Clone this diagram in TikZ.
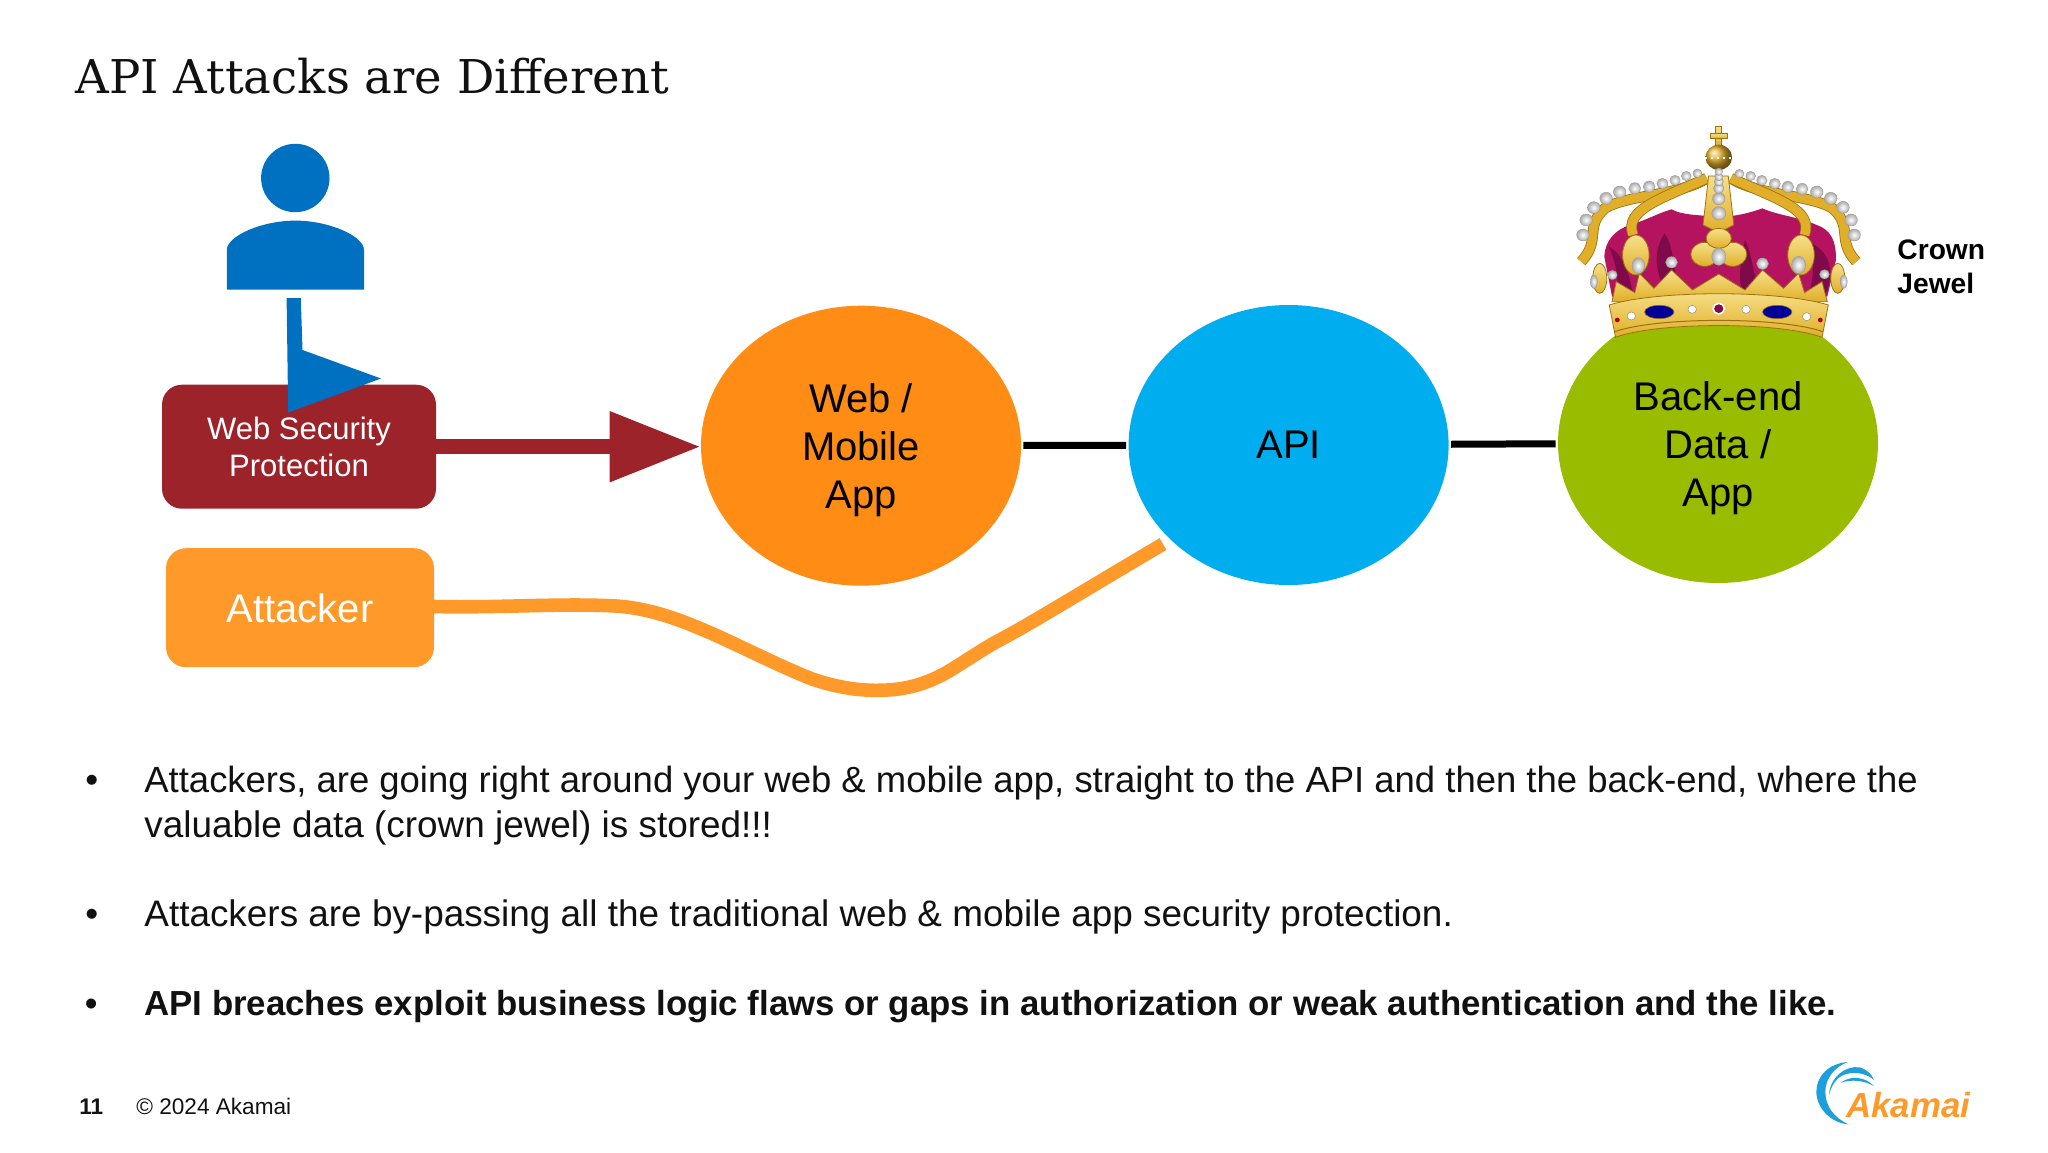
\documentclass[tikz,border=0pt]{standalone}
\usepackage{fontspec}
\setmainfont{Liberation Sans}
\newfontfamily\titlefont{DejaVu Serif}
\usetikzlibrary{shapes.geometric,arrows.meta}
\definecolor{wspred}{HTML}{9C232A}
\definecolor{attackorange}{HTML}{FF9A2A}
\definecolor{mobileorange}{HTML}{FF8C14}
\definecolor{apiblue}{HTML}{00AEEF}
\definecolor{backendgreen}{HTML}{99BC00}
\definecolor{userblue}{HTML}{0070C0}
\definecolor{inkblack}{HTML}{111111}
\definecolor{crowngold}{HTML}{E0AE28}
\definecolor{crownlight}{HTML}{F7E08A}
\definecolor{crowndark}{HTML}{9A7212}
\definecolor{velvet}{HTML}{B5125F}
\definecolor{velvetdark}{HTML}{7F0A4A}
\definecolor{logoblue}{HTML}{1BA0DC}
\begin{document}
\begin{tikzpicture}[%
    x=0.5pt,y=-0.5pt,
    box/.style={
      rectangle,
      rounded corners=10pt,
      text=white,
      align=center,
      inner sep=0pt
    },
    blob/.style={
      ellipse,
      minimum width=160pt,
      minimum height=140pt,
      inner sep=0pt,
      align=center,
      text=black,
      font=\fontsize{20}{24}\selectfont
    },
    link/.style={
      draw=black,
      line width=3.5pt,
      shorten <=1pt,
      shorten >=1pt
    },
    bodytext/.style={
      anchor=base west,
      inner sep=0pt,
      text=inkblack,
      font=\fontsize{18.45}{22.5}\selectfont
    },
    boldtext/.style={
      bodytext,
      font=\fontsize{17.4}{22.5}\selectfont\bfseries
    },
    arch/.style={
      draw=crowndark,
      line width=.4pt,
      double=crowngold,
      double distance=4.6pt
    },
    goldpart/.style={
      top color=crownlight,
      bottom color=crowngold,
      draw=crowndark,
      line width=.4pt
    },
    pearl/.style={
      inner color=white,
      outer color=gray!65,
      draw=gray!80,
      line width=.2pt
    }
  ]
    \useasboundingbox (0,0) rectangle (2048,1152);
    \node[anchor=base west,inner sep=0pt,text=inkblack,
      font=\titlefont\fontsize{23.3}{28}\selectfont] (title) at (75,93)
      {API Attacks are Different};

    % person
    \fill[userblue] (295.3,178) circle[radius=34.2];
    \fill[userblue] (226.8,289.6) -- (226.8,250)
      .. controls (226.8,236) and (262,220.6) .. (295.3,220.6)
      .. controls (329,220.6) and (364,236) .. (364,250)
      -- (364,289.6) -- cycle;

    % boxes
    \node[box,fill=wspred,minimum width=137pt,minimum height=62pt,
      font=\fontsize{15.5}{18.7}\selectfont] (wsp) at (299,446.7)
      {Web Security\\Protection};
    \node[box,fill=attackorange,minimum width=134pt,minimum height=59.5pt,
      font=\fontsize{20}{24}\selectfont] (attacker) at (300,607.7) {Attacker};

    % blue arrow, head turned sideways over the box
    \coordinate (userfoot) at (293.6,298);
    \fill[userblue] (userfoot) ++(-7,0) -- ++(14.2,0) -- (302.5,350)
      -- (381,378.5) -- (288.2,412.5) -- cycle;

    % ovals
    \node[blob,fill=mobileorange] (mobile) at (861,445.7)
      {\rule{0pt}{19pt}Web /\\Mobile\\App};
    \node[blob,fill=apiblue] (api) at (1288.6,445) {API};
    \node[blob,fill=backendgreen] (backend) at (1718,443)
      {\rule{0pt}{19.3pt}Back-end\\Data /\\App};

    % connectors
    \draw[wspred,line width=7.4pt,-{Triangle[length=45.5pt,width=33.5pt]}]
      (wsp.east) -- (wsp.east -| mobile.west);
    \draw[link] (mobile) -- (api);
    \draw[link] (api) -- (backend);
    \coordinate (attackout) at (434,606.5);
    \coordinate (apihit) at (1163,544);
    \draw[attackorange,line width=6.8pt] (attackout)
      .. controls (500,608) and (560,603) .. (616,606)
      .. controls (680,610) and (740,650) .. (812,679)
      .. controls (845,690) and (868,691) .. (887,690)
      .. controls (910,689) and (932,682) .. (954,668)
      .. controls (970,658) and (985,648) .. (996,642)
      .. controls (1030,624) and (1060,605) .. (apihit);

    % crown
    \begin{scope}[shift={(1500,100)},xscale=.35,yscale=.3333]
      \fill[velvet] (298,470) .. controls (300,420) and (330,390) .. (370,375)
        .. controls (420,360) and (450,340) .. (490,328)
        .. controls (520,345) and (560,345) .. (625,350)
        .. controls (670,350) and (710,340) .. (750,325)
        .. controls (790,345) and (850,350) .. (905,375)
        .. controls (945,390) and (960,420) .. (960,480)
        -- (935,590) -- (320,590) -- cycle;
      \fill[velvetdark] (470,400) .. controls (500,440) and (490,520) .. (520,570)
        -- (470,570) .. controls (440,500) and (440,450) .. (470,400);
      \fill[velvetdark] (700,420) .. controls (690,470) and (680,520) .. (690,570)
        -- (740,570) .. controls (720,510) and (720,460) .. (700,420);
      \fill[velvetdark] (870,420) .. controls (900,470) and (900,530) .. (880,585)
        -- (930,585) .. controls (955,520) and (950,450) .. (870,420);
      \fill[velvetdark] (310,440) .. controls (330,480) and (340,540) .. (335,585)
        -- (380,585) .. controls (370,520) and (350,460) .. (310,440);
      % arches
      \draw[arch] (232,485) .. controls (290,420) and (240,380) .. (300,325)
        .. controls (360,285) and (520,285) .. (590,235);
      \draw[arch] (1018,485) .. controls (960,420) and (1010,380) .. (950,325)
        .. controls (890,285) and (730,285) .. (660,235);
      \draw[arch] (380,405) .. controls (355,330) and (450,300) .. (590,235);
      \draw[arch] (870,405) .. controls (895,330) and (800,300) .. (660,235);
      \shadedraw[goldpart] (596,228) -- (652,228) -- (668,375) -- (625,398)
        -- (580,375) -- cycle;
      % orb and cross
      \shadedraw[goldpart] (615,80) rectangle (633,140);
      \shadedraw[goldpart] (600,100) rectangle (650,116);
      \shade[ball color=crowngold] (625,172) circle[radius=38];
      \draw[white,line width=1pt,dotted] (585,174) -- (665,174);
      % side ornaments
      \shadedraw[goldpart] (285,535) ellipse[x radius=20,y radius=45];
      \shadedraw[goldpart] (965,535) ellipse[x radius=20,y radius=45];
      \shadedraw[goldpart] (388,465) ellipse[x radius=38,y radius=60];
      \shadedraw[goldpart] (860,465) ellipse[x radius=38,y radius=60];
      % flower
      \shadedraw[goldpart] (585,463) ellipse[x radius=40,y radius=36];
      \shadedraw[goldpart] (665,463) ellipse[x radius=40,y radius=36];
      \shadedraw[goldpart] (625,415) ellipse[x radius=36,y radius=30];
      % points and band
      \shadedraw[goldpart] (320,605) -- (332,545) -- (385,578) -- (398,520) -- (440,565)
        -- (490,510) -- (550,570) -- (625,522) -- (700,570) -- (750,510)
        -- (810,565) -- (853,520) -- (870,578) -- (920,545) -- (935,605) -- cycle;
      \shadedraw[goldpart] (312,615) .. controls (450,570) and (800,570) .. (938,615)
        -- (920,712) .. controls (800,665) and (450,665) .. (330,712) -- cycle;
      \draw[crowndark,line width=.5pt] (328,695) .. controls (450,650) and (800,650) .. (922,695);
      % gems
      \filldraw[fill=blue!60!black,draw=crowndark,line width=.3pt] (455,636) ellipse[x radius=42,y radius=20];
      \filldraw[fill=blue!60!black,draw=crowndark,line width=.3pt] (792,636) ellipse[x radius=42,y radius=20];
      \filldraw[fill=velvetdark,draw=white,line width=.8pt] (625,626) circle[radius=16];
      \fill[red!70!black] (335,660) circle[radius=7];
      \fill[red!70!black] (915,660) circle[radius=7];
      \foreach \px/\py in {375/648,549/628,703/628,876/650}
        \filldraw[fill=white,draw=gray,line width=.2pt] (\px,\py) circle[radius=12];
      % pearls
      \foreach \px/\py/\pr in {237/405/18,246/360/18,268/323/18,303/295/18,342/276/18,
        385/265/17,426/260/17,464/251/16,500/241/15,532/228/14,564/220/13,
        684/221/13,716/228/14,748/241/15,785/251/16,822/261/17,863/267/17,
        905/276/18,945/295/18,980/322/18,1003/360/18,1012/405/18,
        625/340/20,625/296/18,625/265/15,625/245/13,625/230/12,625/215/11,
        321/525/14,490/487/17,750/491/17,927/523/14}
        \shade[pearl] (\px,\py) circle[radius=\pr];
      \shade[pearl] (395,497) ellipse[x radius=18,y radius=24];
      \shade[pearl] (853,495) ellipse[x radius=20,y radius=26];
      \shade[pearl] (625,470) ellipse[x radius=20,y radius=26];
      \shade[pearl] (268,545) ellipse[x radius=10,y radius=20];
      \shade[pearl] (982,545) ellipse[x radius=10,y radius=20];
    \end{scope}

    \node[anchor=base west,inner sep=0pt,align=left,
      font=\fontsize{14.1}{16.7}\selectfont\bfseries] (jewel) at (1897,293)
      {Crown\\Jewel};

    % bullets
    \node[bodytext] (dot1) at (85,792) {•};
    \node[bodytext,font=\fontsize{18.23}{22.5}\selectfont] (line1) at (144,792) {Attackers, are going right around your web \& mobile app, straight to the API and then the back-end, where the};
    \node[bodytext] (line1b) at (144,837) {valuable data (crown jewel) is stored!!!};
    \node[bodytext] (dot2) at (85,926) {•};
    \node[bodytext] (line2) at (144,926) {Attackers are by-passing all the traditional web \& mobile app security protection.};
    \node[boldtext] (dot3) at (85,1015) {•};
    \node[boldtext] (line3) at (144,1015) {API breaches exploit business logic flaws or gaps in authorization or weak authentication and the like.};

    % footer
    \node[anchor=base west,inner sep=0pt,text=inkblack,
      font=\fontsize{11.3}{14}\selectfont\bfseries] (pagenum) at (79,1114) {11};
    \node[anchor=base west,inner sep=0pt,text=inkblack,
      font=\fontsize{11.3}{14}\selectfont] (copyright) at (136,1114) {© 2024 Akamai};

    % logo
    \begin{scope}[shift={(1748,1040)},scale=.3333]
      \fill[logoblue] (300,66) .. controls (240,70) and (205,110) .. (205,155)
        .. controls (205,205) and (250,250) .. (302,253)
        .. controls (260,235) and (232,200) .. (232,155)
        .. controls (232,115) and (260,80) .. (300,66) -- cycle;
      \fill[logoblue] (243,165) .. controls (245,115) and (290,75) .. (335,82)
        .. controls (355,88) and (370,100) .. (378,120)
        .. controls (350,95) and (300,90) .. (270,115)
        .. controls (255,130) and (248,145) .. (243,165) -- cycle;
      \fill[logoblue] (278,128) .. controls (310,105) and (350,110) .. (378,138)
        .. controls (345,120) and (310,118) .. (278,128) -- cycle;
    \end{scope}
    \node[anchor=base west,inner sep=0pt,text=attackorange,
      font=\fontsize{17.4}{20}\selectfont\bfseries\itshape] (logotext) at (1846,1117) {Akamai};
  \end{tikzpicture}
\end{document}
